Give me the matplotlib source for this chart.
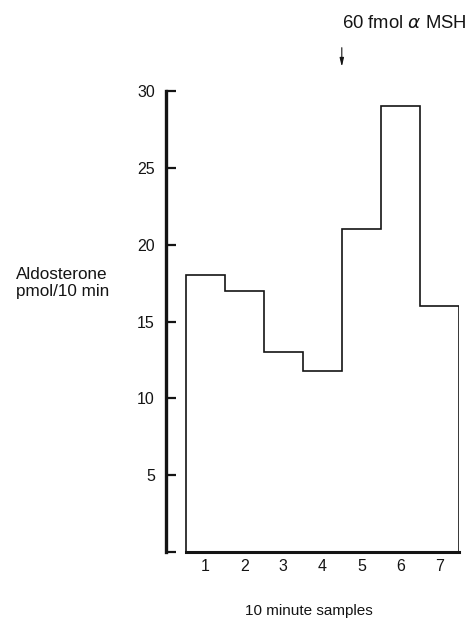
import numpy as np
import matplotlib
matplotlib.use("Agg")
import matplotlib.pyplot as plt

plt.rcParams['font.family'] = ['Liberation Sans', 'DejaVu Sans']

# 10 minute samples and aldosterone output (pmol/10 min)
samples = [1, 2, 3, 4, 5, 6, 7]
aldosterone = [18, 17, 13, 11.8, 21, 29, 16]
y_ticks = [0, 5, 10, 15, 20, 25, 30]
y_ticklabels = ['', '5', '10', '15', '20', '25', '30']
msh_time = 4.5  # alpha-MSH given between sample 4 and 5

ink = '#141414'

fig = plt.figure(figsize=(4.71, 6.19), dpi=100)
ax = fig.add_axes([166/471, 67/619, 293/471, 461/619])

edges = np.append(np.array(samples) - 0.5, samples[-1] + 0.5)
ax.stairs(aldosterone, edges, baseline=0, fill=False, color=ink, lw=1.2)

ax.set_xlim(0, 7.5)
ax.set_ylim(0, 30)

for s in ['top', 'right']:
    ax.spines[s].set_visible(False)
ax.spines['left'].set_linewidth(2.4)
ax.spines['left'].set_color(ink)
ax.spines['bottom'].set_linewidth(2.2)
ax.spines['bottom'].set_color(ink)
ax.spines['bottom'].set_bounds(edges[0], edges[-1])

ax.set_yticks(y_ticks)
ax.set_yticklabels(y_ticklabels)
ax.tick_params(axis='y', direction='in', length=7, width=1.6, color=ink,
               pad=8, labelsize=11.5, labelcolor=ink)
ax.set_xticks(samples)
ax.set_xticklabels([str(s) for s in samples])
ax.tick_params(axis='x', length=0, pad=5, labelsize=11.5, labelcolor=ink)

fig.text(0.132, 0.543, 'Aldosterone\npmol/10 min', ha='center', va='center',
         fontsize=12.3, color=ink, linespacing=1.2)
fig.text(309/471, 8/619, '10 minute samples', ha='center', va='center',
         fontsize=11, color=ink)

ax.annotate('', xy=(msh_time, 31.4), xytext=(msh_time, 33.0),
            annotation_clip=False,
            arrowprops=dict(arrowstyle='-|>,head_length=0.5,head_width=0.12',
                            color=ink, lw=0.8))
ax.text(msh_time, 34.4, r'60 fmol $\alpha$ MSH', ha='left', va='center',
        fontsize=13.3, color=ink, clip_on=False)

fig.savefig('out.png', dpi=100)
